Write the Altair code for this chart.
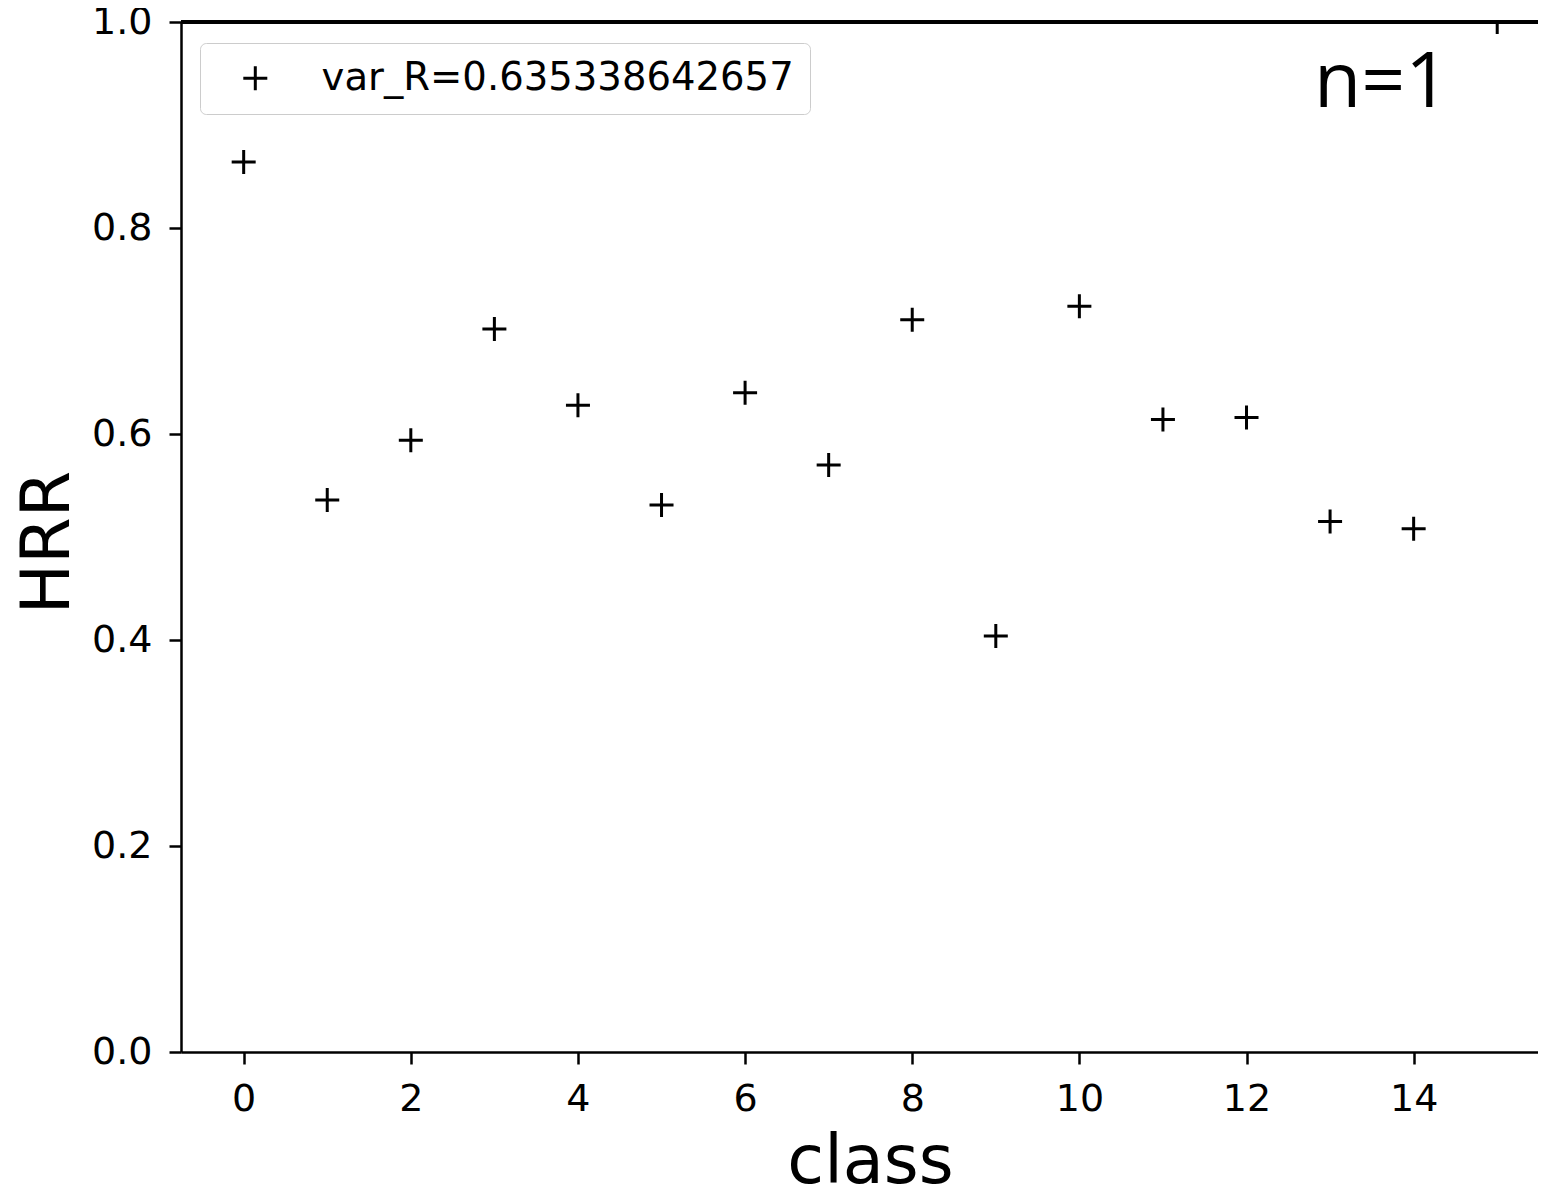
import altair as alt
import pandas as pd

classes = list(range(16))
hrr = [0.864, 0.536, 0.594, 0.702, 0.628, 0.531, 0.640, 0.570,
       0.711, 0.404, 0.724, 0.614, 0.616, 0.515, 0.508, 1.0]
series_label = "var_R=0.635338642657"
x_ticks = [0, 2, 4, 6, 8, 10, 12, 14]
y_ticks = [0.0, 0.2, 0.4, 0.6, 0.8, 1.0]

df = pd.DataFrame({"class": classes, "HRR": hrr, "series": [series_label] * len(classes)})

plus = "M-1,0L1,0M0,-1L0,1"
FONT = "DejaVu Sans"

points = alt.Chart(df).mark_point(
    shape=plus, size=576, strokeWidth=3, filled=False, clip=True, opacity=1
).encode(
    x=alt.X("class:Q", scale=alt.Scale(domain=[-0.75, 15.488], nice=False, zero=False),
            axis=alt.Axis(values=x_ticks, title="class", grid=False, labelFontSize=38,
                          labelFont=FONT, labelColor="black", tickSize=12, tickWidth=2.5,
                          tickColor="black", domainColor="black", domainWidth=2.5,
                          labelPadding=16, titleFont=FONT, titleFontSize=67,
                          titleFontWeight="normal", titleColor="black",
                          titleBaseline="alphabetic", titleY=130, titleX=689)),
    y=alt.Y("HRR:Q", scale=alt.Scale(domain=[0, 1], nice=False),
            axis=alt.Axis(values=y_ticks, format=".1f", title="HRR", grid=False,
                          labelFontSize=38, labelFont=FONT, labelColor="black",
                          tickSize=12, tickWidth=2.5, tickColor="black",
                          domainColor="black", domainWidth=2.5, labelPadding=17,
                          titleFont=FONT, titleFontSize=67, titleFontWeight="normal",
                          titleColor="black", titleBaseline="alphabetic",
                          titleX=-113, titleY=520, titleAngle=-90)),
    stroke=alt.Stroke("series:N", scale=alt.Scale(range=["black"]),
                      legend=alt.Legend(title=None, orient="none", legendX=19, legendY=21,
                                        fillColor="white", strokeColor="#cccccc",
                                        cornerRadius=6, padding=16,
                                        symbolType=plus, symbolSize=576,
                                        symbolStrokeWidth=3, symbolFillColor="transparent",
                                        symbolStrokeColor="black", symbolOffset=20,
                                        labelOffset=47, labelFontSize=38.6, labelFont=FONT,
                                        labelColor="black", labelLimit=1000)),
)

top_spine = alt.Chart(df).mark_rule(color="black", strokeWidth=2.5).encode(
    y=alt.datum(1.0)
)

note = alt.Chart(df.head(1)).mark_text(
    text="n=1", font="Open Sans", fontSize=77, align="left", baseline="alphabetic",
    color="black"
).encode(x=alt.value(1133), y=alt.value(85))

chart = alt.layer(points, top_spine, note).properties(
    width=1357, height=1030,
    padding={"left": 173, "top": 14, "right": 0, "bottom": 132},
    autosize=alt.AutoSizeParams(type="none"),
    background="white",
).configure_view(stroke=None)

chart.save("out.html", embed_options={"renderer": "svg", "actions": False})
